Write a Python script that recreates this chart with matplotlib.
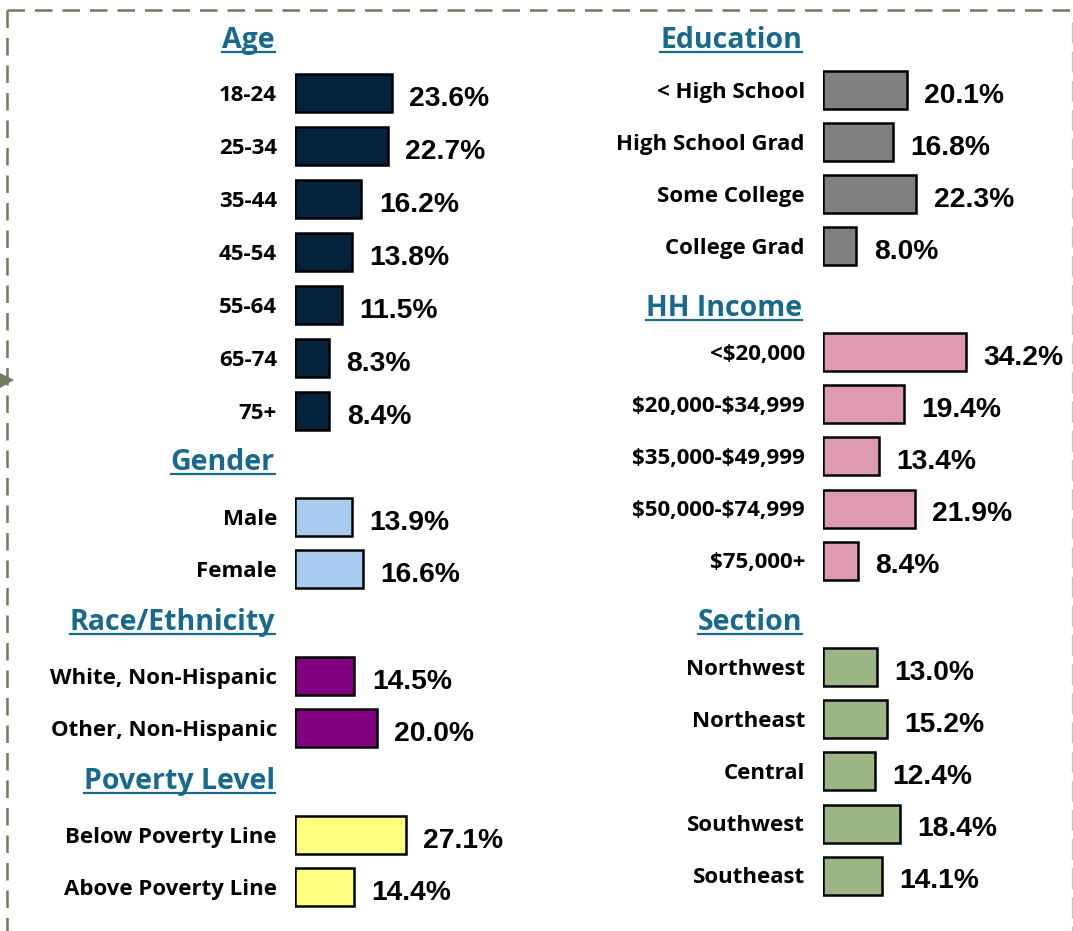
import numpy as np
import matplotlib.pyplot as plt
from matplotlib.lines import Line2D
from matplotlib.patches import Polygon

# canvas size in pixels
W, H = 1073, 931

# ---- data ----
age_labels = ['18-24', '25-34', '35-44', '45-54', '55-64', '65-74', '75+']
age_vals = [23.6, 22.7, 16.2, 13.8, 11.5, 8.3, 8.4]

gender_labels = ['Male', 'Female']
gender_vals = [13.9, 16.6]

race_labels = ['White, Non-Hispanic', 'Other, Non-Hispanic']
race_vals = [14.5, 20.0]

poverty_labels = ['Below Poverty Line', 'Above Poverty Line']
poverty_vals = [27.1, 14.4]

edu_labels = ['< High School', 'High School Grad', 'Some College', 'College Grad']
edu_vals = [20.1, 16.8, 22.3, 8.0]

income_labels = [r'<\$20,000', r'\$20,000-\$34,999', r'\$35,000-\$49,999',
                 r'\$50,000-\$74,999', r'\$75,000+']
income_vals = [34.2, 19.4, 13.4, 21.9, 8.4]

section_labels = ['Northwest', 'Northeast', 'Central', 'Southwest', 'Southeast']
section_vals = [13.0, 15.2, 12.4, 18.4, 14.1]

# ---- styling ----
LABEL_FONT = 'Open Sans'
VALUE_FONT = 'Liberation Sans'
TITLE_COLOR = '#17698D'
BORDER_COLOR = '#6E7B5C'

fig = plt.figure(figsize=(W / 100, H / 100), dpi=100)
fig.patch.set_facecolor('white')


def fx(px):
    return px / W


def fy(py):
    return 1 - py / H


def add_group(labels, vals, color, x0, yc0, step, ppp, width=240):
    # one small axes per group, positioned in pixel terms
    n = len(labels)
    top = yc0 - step / 2
    h = n * step
    ax = fig.add_axes([fx(x0), fy(top + h), width / W, h / H])
    y = np.arange(n)
    ax.barh(y, vals, height=0.73, color=color, edgecolor='black', linewidth=1.8)
    ax.set_ylim(n - 0.5, -0.5)
    ax.set_xlim(0, width / ppp)
    ax.axis('off')
    for yi, lab, v in zip(y, labels, vals):
        ax.annotate(f'{v:.1f}%', (v, yi), xytext=(12.5, -4),
                    textcoords='offset points', ha='left', va='center',
                    fontsize=20.3, fontweight='bold', family=VALUE_FONT)
        ax.annotate(lab, (0, yi), xytext=(-13, -1.5), textcoords='offset points',
                    ha='right', va='center', fontsize=16, fontweight='bold',
                    family=LABEL_FONT, annotation_clip=False)
    return ax


# left column
add_group(age_labels, age_vals, '#04233A', 295, 93, 53, 4.1)
add_group(gender_labels, gender_vals, '#A9CBF0', 295, 517, 52, 4.1)
add_group(race_labels, race_vals, '#800080', 295, 676, 52, 4.1)
add_group(poverty_labels, poverty_vals, '#FFFF80', 295, 835, 52, 4.1)

# right column
add_group(edu_labels, edu_vals, '#808080', 823, 90, 52, 4.18)
add_group(income_labels, income_vals, '#DF9AB3', 823, 352, 52.2, 4.18)
add_group(section_labels, section_vals, '#9BB585', 823, 667, 52.2, 4.18)

# titles (right aligned, underlined)
titles = [('Age', 275, 48), ('Gender', 275, 470), ('Race/Ethnicity', 275, 630),
          ('Poverty Level', 275, 789), ('Education', 802, 48),
          ('HH Income', 802, 316), ('Section', 802, 630)]
title_objs = []
for txt, x, y in titles:
    t = fig.text(fx(x), fy(y), txt, ha='right', va='baseline', fontsize=20.5,
                 fontweight='bold', family=LABEL_FONT, color=TITLE_COLOR)
    title_objs.append((t, y))

fig.canvas.draw()
r = fig.canvas.get_renderer()
for t, y in title_objs:
    bb = t.get_window_extent(r)
    fig.add_artist(Line2D([bb.x0 / W, bb.x1 / W], [fy(y + 4), fy(y + 4)],
                          transform=fig.transFigure, color=TITLE_COLOR, lw=1.6))

# dashed frame
fig.add_artist(Line2D([fx(7), fx(1073)], [fy(10), fy(10)], transform=fig.transFigure,
                      color=BORDER_COLOR, lw=1.8, linestyle=(0, (7, 4))))
fig.add_artist(Line2D([fx(7), fx(7)], [fy(10), fy(931)], transform=fig.transFigure,
                      color=BORDER_COLOR, lw=1.8, linestyle=(0, (7, 4))))
fig.add_artist(Line2D([fx(1072), fx(1072)], [fy(22), fy(931)], transform=fig.transFigure,
                      color='#C4C4B8', lw=1.0, linestyle=(0, (15, 6))))
fig.add_artist(Polygon([[fx(0), fy(373)], [fx(14), fy(380)], [fx(0), fy(388)]],
                       closed=True, transform=fig.transFigure,
                       facecolor=BORDER_COLOR, edgecolor='none'))

fig.savefig('out.png', dpi=100, facecolor='white')
